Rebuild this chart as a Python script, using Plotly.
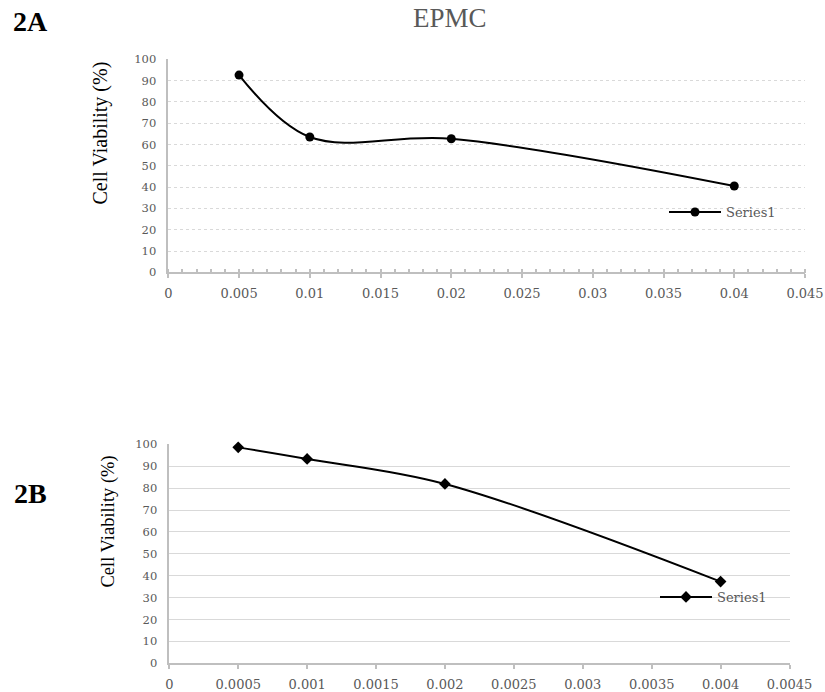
import plotly.graph_objects as go

# ---- data ----
conc_a = [0.005, 0.01, 0.02, 0.04]
viab_a = [92.6, 63.5, 62.7, 40.5]

conc_b = [0.0005, 0.001, 0.002, 0.004]
viab_b = [98.6, 93.3, 81.9, 37.3]

xticks_a = [0, 0.005, 0.01, 0.015, 0.02, 0.025, 0.03, 0.035, 0.04, 0.045]
xlabels_a = ["0", "0.005", "0.01", "0.015", "0.02", "0.025", "0.03", "0.035", "0.04", "0.045"]
xticks_b = [0, 0.0005, 0.001, 0.0015, 0.002, 0.0025, 0.003, 0.0035, 0.004, 0.0045]
xlabels_b = ["0", "0.0005", "0.001", "0.0015", "0.002", "0.0025", "0.003", "0.0035", "0.004", "0.0045"]
yticks = [0, 10, 20, 30, 40, 50, 60, 70, 80, 90, 100]
ylabels = [str(v) for v in yticks]

W, H = 825, 692
AXIS = "#bfbfbf"
GRID = "#d9d9d9"
TXT = "#595959"
TICKFONT = dict(family="DejaVu Serif", size=13, color=TXT)
YTICKFONT = dict(family="DejaVu Serif", size=11.5, color=TXT)

fig = go.Figure()

fig.add_trace(go.Scatter(
    x=conc_a, y=viab_a, mode="lines+markers", name="Series1",
    line=dict(color="black", width=2, shape="spline", smoothing=1),
    marker=dict(symbol="circle", size=9, color="black"),
    xaxis="x", yaxis="y", legend="legend", cliponaxis=False,
))
fig.add_trace(go.Scatter(
    x=conc_b, y=viab_b, mode="lines+markers", name="Series1",
    line=dict(color="black", width=2, shape="spline", smoothing=1),
    marker=dict(symbol="diamond", size=9, color="black"),
    xaxis="x2", yaxis="y2", legend="legend2", cliponaxis=False,
))

def px(x):
    return x / W

def py(y):
    return 1 - y / H

dom_xa = [px(168.3), px(805)]
dom_ya = [py(272.3), py(59.3)]
dom_xb = [px(169.3), px(789.5)]
dom_yb = [py(663.3), py(444.3)]

fig.update_layout(
    width=W, height=H,
    margin=dict(l=0, r=0, t=0, b=0, autoexpand=False),
    paper_bgcolor="white", plot_bgcolor="white",
    showlegend=True,
    xaxis=dict(
        domain=dom_xa, range=[0, 0.045], anchor="y", automargin=False,
        tickmode="array", tickvals=xticks_a, ticktext=xlabels_a,
        showgrid=False, zeroline=False,
        showline=True, linecolor=AXIS, linewidth=1.5,
        ticks="outside", ticklen=4, tickcolor=AXIS, tickwidth=1.5,
        minor=dict(dtick=0.001, ticks="inside", ticklen=4, tickcolor=AXIS, tickwidth=1.5, showgrid=False),
        tickfont=TICKFONT, ticklabelstandoff=4,
    ),
    xaxis3=dict(
        domain=dom_xa, range=[0, 0.045], anchor="y", overlaying="x", automargin=False,
        tickmode="array", tickvals=xticks_a, showticklabels=False,
        showgrid=False, zeroline=False, showline=False,
        ticks="inside", ticklen=4, tickcolor=AXIS, tickwidth=1.5,
    ),
    yaxis=dict(
        domain=dom_ya, range=[0, 100], anchor="x", automargin=False,
        tickmode="array", tickvals=yticks, ticktext=ylabels,
        showgrid=True, gridcolor=GRID, griddash="dot", gridwidth=1,
        zeroline=False, showline=True, linecolor=AXIS, linewidth=1.5,
        ticks="", tickfont=YTICKFONT, ticklabelstandoff=8,
    ),
    xaxis2=dict(
        domain=dom_xb, range=[0, 0.0045], anchor="y2", automargin=False,
        tickmode="array", tickvals=xticks_b, ticktext=xlabels_b,
        showgrid=False, zeroline=False,
        showline=True, linecolor=AXIS, linewidth=1.5,
        ticks="outside", ticklen=4, tickcolor=AXIS, tickwidth=1.5,
        tickfont=TICKFONT, ticklabelstandoff=4,
    ),
    yaxis2=dict(
        domain=dom_yb, range=[0, 100], anchor="x2", automargin=False,
        tickmode="array", tickvals=yticks, ticktext=ylabels,
        showgrid=True, gridcolor=GRID, gridwidth=1.2,
        zeroline=False, showline=True, linecolor=AXIS, linewidth=1.5,
        ticks="", tickfont=YTICKFONT, ticklabelstandoff=8,
    ),
    legend=dict(
        x=px(664), y=py(212), xanchor="left", yanchor="middle",
        bgcolor="rgba(0,0,0,0)", borderwidth=0, itemwidth=52,
        font=dict(family="DejaVu Serif", size=13, color=TXT),
    ),
    legend2=dict(
        x=px(655), y=py(597), xanchor="left", yanchor="middle",
        bgcolor="rgba(0,0,0,0)", borderwidth=0, itemwidth=52,
        font=dict(family="DejaVu Serif", size=13, color=TXT),
    ),
)

ann = [
    dict(text="EPMC", x=px(450), y=py(17.5), font=dict(family="Liberation Serif", size=27, color=TXT)),
    dict(text="<b>2A</b>", x=px(30), y=py(22), font=dict(family="Liberation Serif", size=28, color="black")),
    dict(text="<b>2B</b>", x=px(30), y=py(493), font=dict(family="Liberation Serif", size=28, color="black")),
    dict(text="Cell Viability (%)", x=px(100), y=py(133.5), textangle=-90,
         font=dict(family="Liberation Serif", size=20, color="black")),
    dict(text="Cell Viability (%)", x=px(107.5), y=py(522), textangle=-90,
         font=dict(family="Liberation Serif", size=18.5, color="black")),
]
for a in ann:
    a.update(xref="paper", yref="paper", showarrow=False, xanchor="center", yanchor="middle")
    fig.add_annotation(**a)

fig.write_html(
    "out.html",
    config=dict(displayModeBar=False),
    post_script="document.body.style.margin='0';document.body.style.overflow='hidden';",
)
